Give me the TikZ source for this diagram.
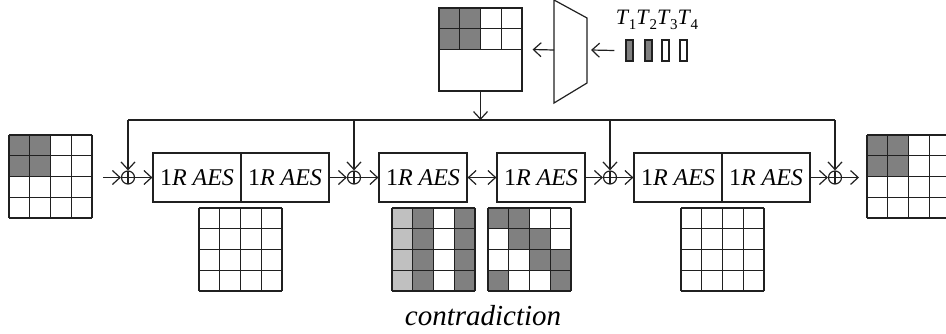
\documentclass[tikz,border=0pt]{standalone}
\usepackage{fontspec}
\setmainfont{Liberation Serif}
\usetikzlibrary{arrows.meta}
\definecolor{dk}{HTML}{808080}
\definecolor{lt}{HTML}{C0C0C0}
\definecolor{ln}{HTML}{202020}
\newcommand\mygrid[2]{%
  \foreach \i in {0,...,4} {\draw (#1+\i*20.75,#2) -- ++(0,83); \draw (#1,#2+\i*20.75) -- ++(83,0);}}
\newcommand\myfill[3]{%
  \foreach \c/\r/\col in {#3} {\fill[\col] (#1+\c*20.75,#2+\r*20.75) rectangle ++(20.75,20.75);}}
\newcommand\Tsub[1]{\textit{T}\kern-0.02em\raisebox{-0.45ex}{\fontsize{7.5}{8}\selectfont #1}}
\begin{document}
\begin{tikzpicture}[x=0.5pt,y=-0.5pt,line width=0.6pt,draw=ln,
  >={Straight Barb[length=3.8pt,width=7pt]},
  arr/.style={->},
  aes/.style={draw,inner sep=0pt,minimum width=44pt,minimum height=24.5pt,font=\fontsize{12}{14}\selectfont},
  xor/.style={draw,circle,inner sep=0pt,minimum size=6.5pt,
    path picture={\draw (path picture bounding box.north) -- (path picture bounding box.south)
      (path picture bounding box.west) -- (path picture bounding box.east);}},
  tok/.style={draw,inner sep=0pt,minimum width=3.5pt,minimum height=10.5pt}]
\useasboundingbox (0,0) rectangle (946,333);
\clip (0,0) rectangle (946,333);

% top box with key grid
\myfill{439}{8}{0/0/dk,1/0/dk,0/1/dk,1/1/dk}
\foreach \i in {1,2,3} {\draw (439+\i*20.75,8) -- ++(0,41.5);}
\draw (439,28.75) -- ++(83,0) (439,49.5) -- ++(83,0);
\node[draw,inner sep=0pt,minimum width=41.5pt,minimum height=41.5pt] (top) at (480.5,49.5) {};

% trapezoid
\draw (554,0) -- (587,18) -- (587,83) -- (554,103) -- cycle;
\coordinate (trL) at (554,50);
\coordinate (trR) at (587,50);
\draw[arr] (trL) -- ([xshift=5pt]top.east);

% tokens
\node[tok,fill=dk] (tk1) at (629.5,50.5) {};
\node[tok,fill=dk] (tk2) at (648.5,50.5) {};
\node[tok] (tk3) at (665.5,50.5) {};
\node[tok] (tk4) at (683.5,50.5) {};
\node[font=\fontsize{11}{12}\selectfont] (tl) at (657,20) {\Tsub{1}\Tsub{2}\Tsub{3}\Tsub{4}};
\draw[arr] ([xshift=-5.5pt]tk1.west) -- ([xshift=2pt]trR);

% main row
\node[xor] (x1) at (128,177.5) {};
\node[aes] (a1) at (197,177.5) {1\textit{R AES}};
\node[aes] (a2) at (285,177.5) {1\textit{R AES}};
\node[xor] (x2) at (354,177.5) {};
\node[aes] (b) at (423,177.5) {1\textit{R AES}};
\node[aes] (c) at (541,177.5) {1\textit{R AES}};
\node[xor] (x3) at (610,177.5) {};
\node[aes] (d1) at (678,177.5) {1\textit{R AES}};
\node[aes] (d2) at (766,177.5) {1\textit{R AES}};
\node[xor] (x4) at (835,177.5) {};
\coordinate (lin) at (103,177.5);
\coordinate (rout) at (859,177.5);

\draw[arr] (lin) -- (x1);
\draw[arr] (x1) -- (a1);
\draw[arr] (a2) -- (x2);
\draw[arr] (x2) -- (b);
\draw[<->] (b) -- (c);
\draw[arr] (c) -- (x3);
\draw[arr] (x3) -- (d1);
\draw[arr] (d2) -- (x4);
\draw[arr] (x4) -- (rout);

% bus
\coordinate (busy) at (0,120);
\draw[arr] (top.south) -- (top.south |- busy);
\draw (x1 |- busy) -- (x4 |- busy);
\foreach \n in {x1,x2,x3,x4} {\draw[arr] (\n |- busy) -- (\n);}

% side grids
\myfill{9}{135}{0/0/dk,1/0/dk,0/1/dk,1/1/dk}
\mygrid{9}{135}
\myfill{867}{135}{0/0/dk,1/0/dk,0/1/dk,1/1/dk}
\mygrid{867}{135}

% grids under boxes
\mygrid{199}{208}
\myfill{392}{208}{0/0/lt,0/1/lt,0/2/lt,0/3/lt,1/0/dk,1/1/dk,1/2/dk,1/3/dk,3/0/dk,3/1/dk,3/2/dk,3/3/dk}
\mygrid{392}{208}
\myfill{488}{208}{0/0/dk,1/0/dk,1/1/dk,2/1/dk,2/2/dk,3/2/dk,0/3/dk,3/3/dk}
\mygrid{488}{208}
\mygrid{681}{208}

\node[font=\fontsize{14.5}{16}\itshape] (con) at (483,316) {contradiction};
\end{tikzpicture}
\end{document}
